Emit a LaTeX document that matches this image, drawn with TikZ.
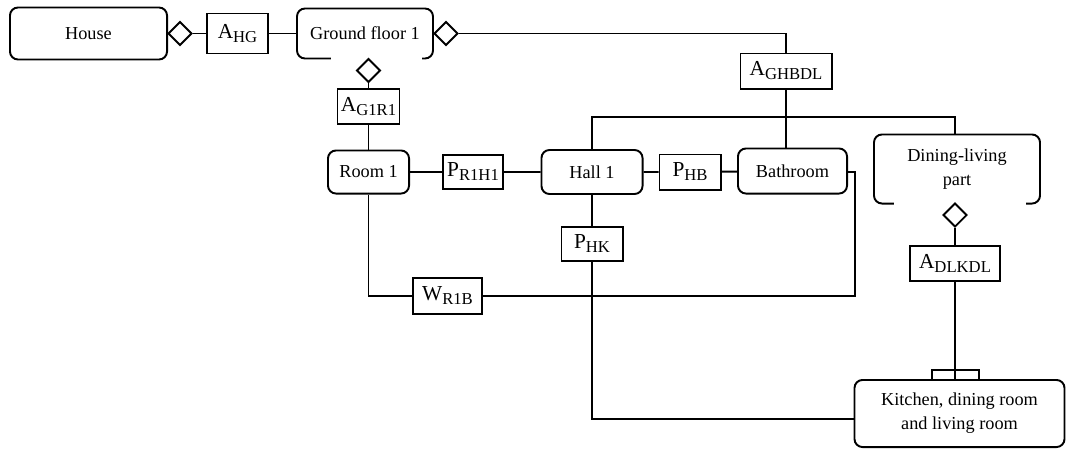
\documentclass[tikz,border=0pt]{standalone}
\usepackage{fontspec}
\setmainfont{Liberation Serif}
\usetikzlibrary{shapes.geometric, positioning}

\newcommand{\lbl}[2]{{\fontsize{16}{18}\selectfont #1}\raisebox{-3pt}{\fontsize{12.5}{14}\selectfont #2}}

\tikzset{
  part/.style={draw, rounded corners=6pt, align=center, inner sep=0pt, font=\fontsize{13.7}{18}\selectfont},
  rel/.style={draw, inner sep=0pt},
  agg/.style={draw, diamond, fill=white, inner sep=0pt, minimum size=18pt},
}

\begin{document}
\begin{tikzpicture}[x=0.75pt, y=-0.75pt, line width=1.45pt]
  \useasboundingbox (0,0) rectangle (1066,450);

  % Top row
  \node[part, minimum width=117.8pt, minimum height=39pt] (house) at (88.5,33.5) {House};
  \node[agg] (aggHG) at (180,33.5) {};
  \node[rel, minimum width=45.8pt, minimum height=30pt] (aHG) at (237.5,33.5) {\lbl{A}{HG}};
  \node[part, minimum width=102pt, minimum height=37.5pt] (ground) at (365,33.5) {Ground floor 1};
  \fill[white] (331,55) rectangle (422,62);
  \node[agg] (aggGB) at (446,33.5) {};
  \node[agg] (aggGR) at (368.5,70.5) {};
  \node[rel, minimum width=46.5pt, minimum height=26.3pt] (aG1R1) at (368.5,106.5) {\lbl{A}{G1R1}};
  \node[rel, minimum width=68.3pt, minimum height=26.3pt] (aGHBDL) at (786,71) {\lbl{A}{GHBDL}};
  \coordinate (bus) at (786,117);

  % Middle row
  \node[part, minimum width=60.8pt, minimum height=32.3pt] (room1) at (368.5,172) {Room 1};
  \node[rel, minimum width=45pt, minimum height=25.5pt] (pR1H1) at (473,172) {\lbl{P}{R1H1}};
  \node[part, minimum width=75.8pt, minimum height=33pt] (hall) at (592,172) {Hall 1};
  \node[rel, minimum width=45.8pt, minimum height=26.3pt] (pHB) at (690,172) {\lbl{P}{HB}};
  \node[part, minimum width=81.8pt, minimum height=33.8pt] (bath) at (792.5,171) {Bathroom};
  \coordinate (bathR) at (855,172);
  \node[part, minimum width=124.5pt, minimum height=51.8pt] (dining) at (957,169) {Dining-living\\part};
  \fill[white] (894,200) rectangle (1026,207);
  \node[agg] (aggDK) at (955,215) {};
  \node[rel, minimum width=67.5pt, minimum height=26.3pt] (aDLKDL) at (955,263.5) {\lbl{A}{DLKDL}};

  % Lower part
  \node[rel, minimum width=45.8pt, minimum height=25.5pt] (pHK) at (592,244) {\lbl{P}{HK}};
  \node[rel, minimum width=51.8pt, minimum height=27pt] (wR1B) at (447.5,296) {\lbl{W}{R1B}};
  \node[part, minimum width=157.5pt, minimum height=50.3pt] (kitchen) at (959.5,413.5) {Kitchen, dining room\\and living room};
  \coordinate (footL) at (932,380);
  \coordinate (footR) at (979,380);

  % Links
  \draw (aggHG) -- (aHG) -- (ground);
  \draw (aggGB) -| (aGHBDL);
  \draw (aGHBDL) -- (aGHBDL |- bath.north);
  \draw (hall.north) |- (bus) -| (aggDK |- dining.north);
  \draw (aggGR) -- (aG1R1) -- (room1);
  \draw (room1) -- (pR1H1) -- (hall) -- (pHB) -- (bath);
  \draw (hall) -- (pHK);
  \draw (pHK) |- ([yshift=-4pt]kitchen.west);
  \draw (room1) |- (wR1B);
  \draw (bath.east |- bathR) -- (bathR) |- (wR1B);
  \draw (aggDK) -- (aDLKDL) -- (aDLKDL |- kitchen.north);
  \draw (footL) -- ++(0,-10) -| (footR);
\end{tikzpicture}
\end{document}
